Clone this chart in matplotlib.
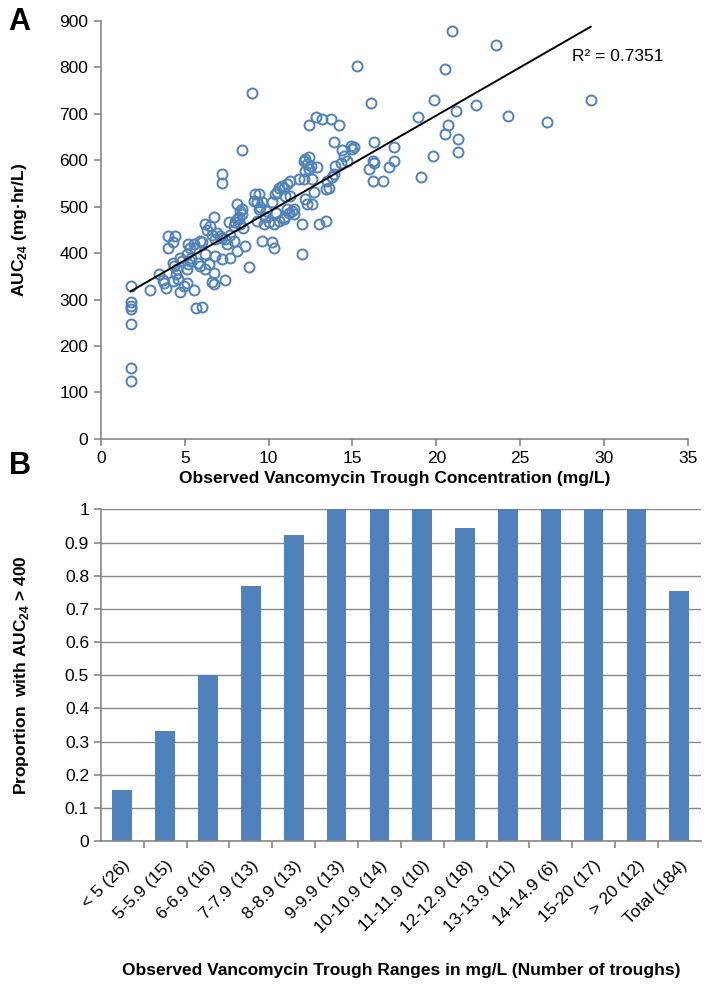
import numpy as np
import matplotlib
matplotlib.use("Agg")
import matplotlib.pyplot as plt
from matplotlib.ticker import MultipleLocator, FixedLocator

plt.rcParams["font.family"] = ["Liberation Sans", "DejaVu Sans"]
plt.rcParams["mathtext.fontset"] = "custom"
plt.rcParams["mathtext.rm"] = "Liberation Sans"
plt.rcParams["mathtext.bf"] = "Liberation Sans:bold"

# panel A: observed trough (mg/L) vs AUC24 (mg*hr/L)
trough = [
    1.78, 1.78, 1.78, 1.78, 1.78, 1.78, 1.78, 2.93, 3.49, 3.7, 3.77, 3.89, 4.03, 4.43,
    4.33, 4.03, 4.3, 4.73, 4.57, 4.49, 4.29, 4.69, 4.93, 4.35, 4.85, 4.6,
    5.17, 5.29, 5.53, 5.9, 5.6, 5.13, 5.33, 5.2, 5.13, 5.53, 5.69, 5.77, 5.93, 5.13, 5.4,
    6.03, 6.23, 6.53, 6.72, 6.93, 6.83, 6.6, 6.3, 6.03, 6.23, 6.43, 6.23, 6.63, 6.72, 6.77, 6.83,
    7.23, 7.23, 7.62, 7.92, 7.13, 7.23, 7.43, 7.92, 7.72, 7.5, 7.43, 7.23, 7.72,
    8.42, 8.12, 8.32, 8.42, 8.22, 8.0, 8.12, 8.4, 8.1, 8.3, 8.5, 8.6, 8.82,
    9.02, 9.22, 9.42, 9.32, 9.12, 9.62, 9.42, 9.82, 9.7, 9.62, 9.5, 9.8, 9.3,
    10.4, 10.5, 10.2, 10.42, 10.9, 10.2, 10.3, 10.0, 10.3, 10.6, 10.8, 10.9, 10.9, 10.6,
    11.0, 11.2, 11.5, 11.1, 11.3, 11.3, 11.4, 11.5, 11.8, 11.1,
    12.0, 12.0, 12.4, 12.8, 12.1, 12.2, 12.4, 12.3, 12.5, 12.9, 12.4, 12.2, 12.1, 12.6, 12.7,
    12.2, 12.3, 12.6,
    13.2, 13.7, 13.9, 13.0, 13.4, 13.4, 13.6, 13.5, 13.9, 13.8, 13.95,
    14.2, 14.9, 14.4, 14.7, 14.3, 14.5,
    15.0, 15.1, 15.3, 16.1, 16.3, 16.2, 16.3, 16.0, 16.2, 16.8, 17.5, 17.5, 17.2, 19.1, 18.9,
    19.86, 19.8,
    20.96, 23.55, 20.5, 22.35, 21.2, 24.3, 20.7, 20.5, 21.3, 21.3, 26.6, 29.2,
]
auc = [
    330, 294, 287, 280, 248, 153, 124, 320, 356, 343, 336, 325, 437, 436,
    423, 410, 379, 390, 366, 354, 340, 316, 329, 372, 384, 345,
    419, 412, 419, 425, 410, 397, 383, 376, 366, 320, 282, 379, 372, 336, 390,
    423, 462, 459, 477, 444, 430, 440, 450, 284, 399, 376, 365, 338, 333, 358, 394,
    570, 551, 466, 459, 437, 433, 430, 426, 440, 420, 343, 388, 390,
    621, 505, 491, 484, 477, 466, 405, 495, 473, 462, 455, 415, 370,
    745, 527, 527, 510, 513, 509, 495, 491, 462, 426, 500, 477, 470,
    527, 531, 509, 486, 473, 423, 412, 466, 462, 540, 545, 541, 477, 470,
    523, 487, 495, 549, 556, 523, 491, 484, 559, 495,
    399, 462, 676, 693, 599, 603, 606, 592, 588, 585, 581, 577, 559, 559, 531,
    516, 505, 505,
    689, 689, 639, 462, 469, 538, 541, 556, 570, 563, 588,
    675, 631, 621, 599, 595, 610,
    624, 628, 803, 724, 640, 599, 595, 581, 556, 556, 628, 599, 585, 563, 693,
    730, 610,
    878, 849, 796, 718, 705, 696, 675, 657, 646, 618, 683, 730,
]

# panel B: proportion of troughs per range with AUC24 > 400
ranges = ["< 5 (26)", "5-5.9 (15)", "6-6.9 (16)", "7-7.9 (13)", "8-8.9 (13)",
          "9-9.9 (13)", "10-10.9 (14)", "11-11.9 (10)", "12-12.9 (18)", "13-13.9 (11)",
          "14-14.9 (6)", "15-20 (17)", "> 20 (12)", "Total (184)"]
proportion = [0.154, 0.333, 0.5, 0.769, 0.923, 1, 1, 1, 0.944, 1, 1, 1, 1, 0.755]

blue = "#4F81BD"
gray = "#868686"
fs = 12.5

fig = plt.figure(figsize=(7.1, 9.93), dpi=100)

# ---- A ----
ax = fig.add_axes([0.142, 0.558, 0.827, 0.421])
x = np.array(trough)
y = np.array(auc)
ax.plot(x, y, "o", mfc="none", mec=blue, ms=7.2, mew=1.4, clip_on=False)
slope, icpt = np.polyfit(x, y, 1)
xl = np.array([x.min(), x.max()])
ax.plot(xl, slope * xl + icpt, color="black", lw=1.4)
ax.text(28.1, 823, "R² = 0.7351", fontsize=fs, va="center", ha="left")

ax.set_xlim(0, 35)
ax.set_ylim(0, 900)
ax.xaxis.set_major_locator(MultipleLocator(5))
ax.yaxis.set_major_locator(MultipleLocator(100))
for s in ["top", "right"]:
    ax.spines[s].set_visible(False)
for s in ["left", "bottom"]:
    ax.spines[s].set_color(gray)
    ax.spines[s].set_linewidth(1.2)
ax.tick_params(direction="out", color=gray, width=1.2, length=5, labelsize=fs, pad=4)
ax.set_xlabel("Observed Vancomycin Trough Concentration (mg/L)", fontsize=fs,
              fontweight="bold", labelpad=3)
ax.set_ylabel(r"AUC$_\mathbf{24}$ (mg·hr/L)", fontsize=fs, fontweight="bold", labelpad=22)
fig.text(0.012, 0.978, "A", fontsize=22, fontweight="bold", va="center")

# ---- B ----
bx = fig.add_axes([0.142, 0.153, 0.845, 0.334])
pos = np.arange(len(ranges))
bx.bar(pos, proportion, width=0.46, color=blue, zorder=2)
bx.set_xlim(-0.5, len(ranges) - 0.5)
bx.set_ylim(0, 1)
bx.yaxis.set_major_locator(MultipleLocator(0.1))
bx.yaxis.set_major_formatter(plt.FuncFormatter(lambda v, p: f"{v:g}"))
bx.grid(axis="y", color=gray, lw=1.0, zorder=0)
bx.set_xticks(pos)
bx.set_xticklabels(ranges, rotation=45, ha="right", rotation_mode="anchor", fontsize=fs)
bx.tick_params(axis="x", length=0, pad=12)
bx.xaxis.set_minor_locator(FixedLocator(pos[:-1] + 0.5))
bx.tick_params(axis="x", which="minor", direction="out", length=5, color=gray, width=1.2)
bx.tick_params(axis="y", direction="out", length=5, color=gray, width=1.2, labelsize=fs)
for s in ["top", "right"]:
    bx.spines[s].set_visible(False)
for s in ["left", "bottom"]:
    bx.spines[s].set_color(gray)
    bx.spines[s].set_linewidth(1.2)
bx.set_xlabel("Observed Vancomycin Trough Ranges in mg/L (Number of troughs)", fontsize=fs,
              fontweight="bold", labelpad=20)
bx.set_ylabel(r"Proportion  with AUC$_\mathbf{24}$ > 400", fontsize=fs, fontweight="bold",
              labelpad=24)
fig.text(0.012, 0.531, "B", fontsize=22, fontweight="bold", va="center")

fig.savefig("out.png", dpi=100)
